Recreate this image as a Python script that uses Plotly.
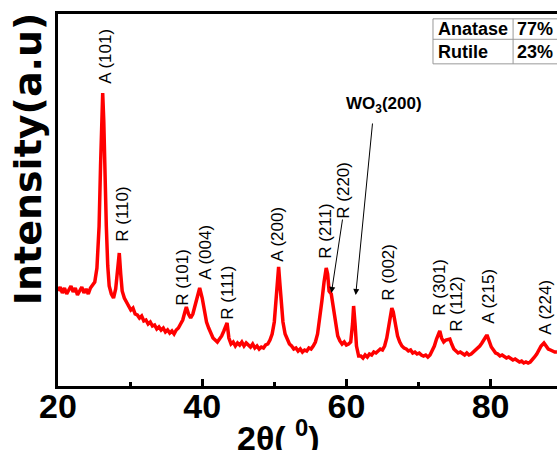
import plotly.graph_objects as go

# XRD pattern (2theta in degrees, intensity in arbitrary units)
two_theta = [
    20.0, 20.3, 20.6, 20.9, 21.2, 21.5, 21.8, 22.1, 22.4, 22.7, 23.0, 23.3, 23.6, 23.9, 24.2, 24.5, 24.8,
    25.1, 25.4, 25.7, 25.9, 26.05, 26.2, 26.35, 26.5, 26.7, 26.9, 27.1, 27.4, 27.7, 28.0, 28.3, 28.5,
    28.7, 28.9, 29.2, 29.5, 29.8, 30.1, 30.4, 30.7, 31.0, 31.3, 31.6, 31.9, 32.2, 32.5, 32.8, 33.1,
    33.4, 33.7, 34.0, 34.3, 34.6, 34.9, 35.2, 35.5, 35.8, 36.1, 36.4, 36.7, 37.0, 37.3, 37.6, 37.8,
    38.1, 38.4, 38.7, 39.0, 39.3, 39.65, 40.0, 40.3, 40.6, 40.9, 41.2, 41.5, 41.8, 42.1, 42.4, 42.7,
    43.0, 43.3, 43.45, 43.7, 44.0, 44.3, 44.6, 44.9, 45.2, 45.5, 45.8, 46.1, 46.4, 46.7, 47.0, 47.3,
    47.6, 47.9, 48.2, 48.5, 48.8, 49.1, 49.4, 49.7, 50.0, 50.25, 50.45, 50.6, 50.8, 51.0, 51.2, 51.5,
    51.8, 52.1, 52.4, 52.7, 53.0, 53.3, 53.6, 53.9, 54.2, 54.5, 54.8, 55.1, 55.4, 55.7, 56.0, 56.3,
    56.6, 56.9, 57.2, 57.4, 57.6, 57.9, 58.2, 58.5, 58.8, 59.1, 59.4, 59.7, 60.0, 60.3, 60.6, 60.85,
    61.0, 61.2, 61.4, 61.7, 62.0, 62.3, 62.6, 62.9, 63.2, 63.5, 63.8, 64.1, 64.4, 64.7, 65.0, 65.3,
    65.6, 65.9, 66.1, 66.3, 66.5, 66.8, 67.1, 67.4, 67.7, 68.0, 68.3, 68.6, 68.9, 69.2, 69.5, 69.8,
    70.1, 70.4, 70.7, 71.0, 71.3, 71.6, 71.9, 72.2, 72.5, 72.8, 72.95, 73.2, 73.5, 73.8, 74.1, 74.35,
    74.6, 74.9, 75.2, 75.5, 75.8, 76.1, 76.4, 76.7, 77.0, 77.3, 77.6, 77.9, 78.2, 78.5, 78.8, 79.1,
    79.4, 79.55, 79.8, 80.1, 80.4, 80.7, 81.0, 81.3, 81.6, 81.9, 82.2, 82.5, 82.8, 83.1, 83.4, 83.7,
    84.0, 84.3, 84.6, 84.9, 85.2, 85.5, 85.8, 86.1, 86.4, 86.7, 87.0, 87.4, 87.7, 88.0, 88.3, 88.6,
    88.9, 89.2,
]
intensity = [
    95, 99, 93, 98, 92, 97, 100, 94, 98, 91, 96, 99, 93, 97, 92, 98, 101,
    104, 118, 160, 220, 270, 293, 265, 210, 160, 120, 100, 92, 88, 97, 118, 133,
    112, 95, 88, 84, 80, 76, 78, 72, 71, 68, 70, 65, 66, 62, 64, 60,
    61, 57, 59, 56, 58, 54, 56, 53, 55, 52, 56, 58, 62, 66, 74, 79,
    72, 68, 72, 80, 90, 98, 88, 76, 64, 58, 52, 48, 46, 44, 47, 50,
    55, 62, 63, 48, 42, 44, 40, 43, 41, 44, 40, 43, 41, 39, 42, 38,
    40, 37, 39, 38, 41, 42, 46, 52, 64, 85, 108, 119, 100, 80, 64, 52,
    46, 42, 40, 37, 38, 35, 37, 34, 36, 35, 38, 37, 40, 44, 52, 66,
    85, 104, 118, 112, 95, 92, 78, 62, 50, 45, 42, 44, 41, 42, 44, 62,
    80, 62, 40, 30, 30, 28, 31, 29, 32, 31, 34, 33, 35, 37, 36, 40,
    48, 60, 70, 78, 74, 60, 50, 44, 40, 38, 37, 35, 36, 33, 34, 32,
    33, 31, 30, 31, 29, 31, 35, 40, 47, 53, 55, 48, 44, 46, 47, 47,
    42, 37, 35, 33, 34, 32, 31, 33, 31, 32, 34, 35, 37, 40, 43, 46,
    50, 50, 44, 39, 36, 33, 32, 30, 31, 29, 28, 29, 27, 26, 27, 25,
    24, 25, 23, 24, 23, 24, 26, 29, 32, 36, 40, 43, 40, 37, 36, 35,
    34, 34,
]

x_ticks = [20, 40, 60, 80]

peak_labels = ["A (101)", "R (110)", "R (101)", "A (004)", "R (111)", "A (200)", "R (211)",
               "R (220)", "R (002)", "R (301)", "R (112)", "A (215)", "A (224)"]
label_x = [26.48, 28.84, 37.17, 40.35, 43.4, 50.33, 57.0, 59.49, 65.73, 72.8, 75.16, 79.6, 87.5]
label_y = [330, 172, 109, 134, 93, 152, 155, 196, 114, 99, 82, 90, 79]

phase_names = ["Anatase", "Rutile"]
phase_pct = ["77%", "23%"]

fig = go.Figure()
fig.add_trace(go.Scatter(x=two_theta, y=intensity, mode="lines",
                         line=dict(color="#ff0000", width=3.5), showlegend=False))

ann = []
for t, xx, yy in zip(peak_labels, label_x, label_y):
    ann.append(dict(x=xx, y=yy, xref="x", yref="y", text=t, showarrow=False, textangle=-90,
                    xanchor="center", yanchor="middle",
                    font=dict(family="Liberation Sans, Arial", size=17, color="black")))

# WO3 label and arrows
ann.append(dict(x=65.15, y=281, xref="x", yref="y", text="<b>WO<sub>3</sub>(200)</b>", showarrow=False,
                xanchor="center", yanchor="middle",
                font=dict(family="Liberation Sans, Arial", size=17, color="black")))
ann.append(dict(x=61.29, y=91, ax=63.64, ay=264, xref="x", yref="y", axref="x", ayref="y", text="",
                showarrow=True, arrowhead=2, arrowsize=1.2, arrowwidth=1, arrowcolor="black", standoff=0))
ann.append(dict(x=57.92, y=93, ax=59.49, ay=168, xref="x", yref="y", axref="x", ayref="y", text="",
                showarrow=True, arrowhead=2, arrowsize=1.2, arrowwidth=1, arrowcolor="black", standoff=0))

# axis titles
ann.append(dict(x=-0.108, y=0.61, xref="paper", yref="paper", text="<b>Intensity(a.u)</b>",
                showarrow=False, textangle=-90, xanchor="left", yanchor="middle",
                font=dict(family="DejaVu Sans", size=38, color="black")))
ann.append(dict(x=0.441, y=-0.132, xref="paper", yref="paper", text="<b>2θ( <sup>0</sup>)</b>",
                showarrow=False, xanchor="center", yanchor="middle",
                font=dict(family="Liberation Sans, Arial", size=34, color="black")))

# table
tx0, tx1, tx2 = 0.7515, 0.912, 1.01
ty0, ty1, ty2 = 0.987, 0.932, 0.866
shapes = [
    dict(type="rect", xref="paper", yref="paper", x0=tx0, x1=tx2, y0=ty2, y1=ty0,
         line=dict(color="#999999", width=1)),
    dict(type="line", xref="paper", yref="paper", x0=tx0, x1=tx2, y0=ty1, y1=ty1,
         line=dict(color="#999999", width=1)),
    dict(type="line", xref="paper", yref="paper", x0=tx1, x1=tx1, y0=ty2, y1=ty0,
         line=dict(color="#999999", width=1)),
]
row_y = [(ty0 + ty1) / 2, (ty1 + ty2) / 2]
for name, pct, ry in zip(phase_names, phase_pct, row_y):
    ann.append(dict(x=tx0 + 0.006, y=ry, xref="paper", yref="paper", text="<b>%s</b>" % name,
                    showarrow=False, xanchor="left", yanchor="middle",
                    font=dict(family="Liberation Sans, Arial", size=18, color="black")))
    ann.append(dict(x=tx1 + 0.004, y=ry, xref="paper", yref="paper", text="<b>%s</b>" % pct,
                    showarrow=False, xanchor="left", yanchor="middle",
                    font=dict(family="Liberation Sans, Arial", size=18, color="black")))

fig.update_layout(
    width=557, height=450,
    margin=dict(l=58, r=0, t=14, b=64),
    paper_bgcolor="white", plot_bgcolor="white",
    annotations=ann, shapes=shapes,
    xaxis=dict(range=[20, 89.21], tickvals=x_ticks, ticks="inside", ticklen=7, tickwidth=3,
               tickcolor="black", showline=True, linecolor="black", linewidth=3, mirror=True,
               showgrid=False, zeroline=False, automargin=False, ticklabelstandoff=-12,
               tickfont=dict(family="Liberation Sans, Arial", size=34, color="black", weight="bold"),
               minor=dict(tickvals=[30, 50, 70], ticks="inside", ticklen=4, tickwidth=3,
                          tickcolor="black", showgrid=False)),
    yaxis=dict(range=[0, 372], showticklabels=False, ticks="", showline=True, linecolor="black",
               linewidth=3, showgrid=False, zeroline=False, automargin=False),
)

fig.write_html("out.html", config={"displayModeBar": False},
               post_script="document.body.style.margin='0px';")
